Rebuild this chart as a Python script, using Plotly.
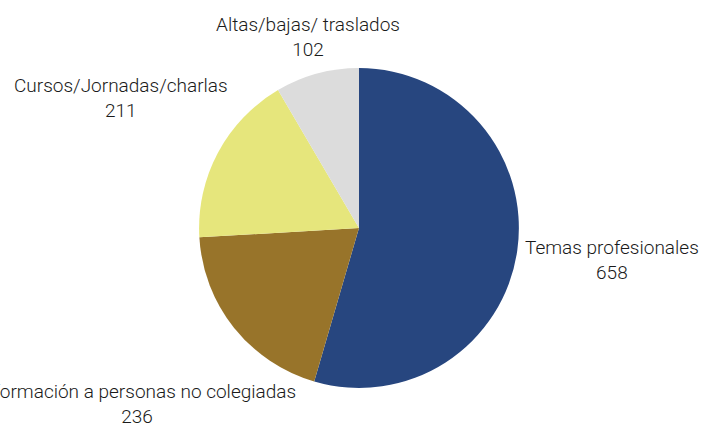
import plotly.graph_objects as go

labels = ["Temas profesionales", "Información a personas no colegiadas",
          "Cursos/Jornadas/charlas", "Altas/bajas/ traslados"]
values = [658, 236, 211, 102]
colors = ["#27467F", "#98742A", "#E6E67C", "#DCDCDC"]

# where each outside label sits (paper coords)
label_pos = [(0.866, 0.385), (0.194, 0.046), (0.171, 0.7695), (0.435, 0.9137)]

fig = go.Figure(go.Pie(
    labels=labels,
    values=values,
    sort=False,
    direction="clockwise",
    rotation=0,
    marker=dict(colors=colors, line=dict(width=0)),
    textinfo="none",
    showlegend=False,
    hoverinfo="label+value",
    domain=dict(x=[0.2815, 0.734], y=[0.083, 0.839]),
))

for lab, val, (px, py) in zip(labels, values, label_pos):
    fig.add_annotation(
        x=px, y=py, xref="paper", yref="paper",
        text=f"{lab}<br>{val}",
        showarrow=False, xanchor="center", yanchor="middle",
        font=dict(family="Roboto", size=19, color="#1a1a1a", weight=300),
    )

fig.update_layout(
    width=707, height=423,
    margin=dict(l=0, r=0, t=0, b=0),
    paper_bgcolor="white",
)

fig.write_html("out.html", config={"displayModeBar": False},
               post_script="document.body.style.margin='0';")
